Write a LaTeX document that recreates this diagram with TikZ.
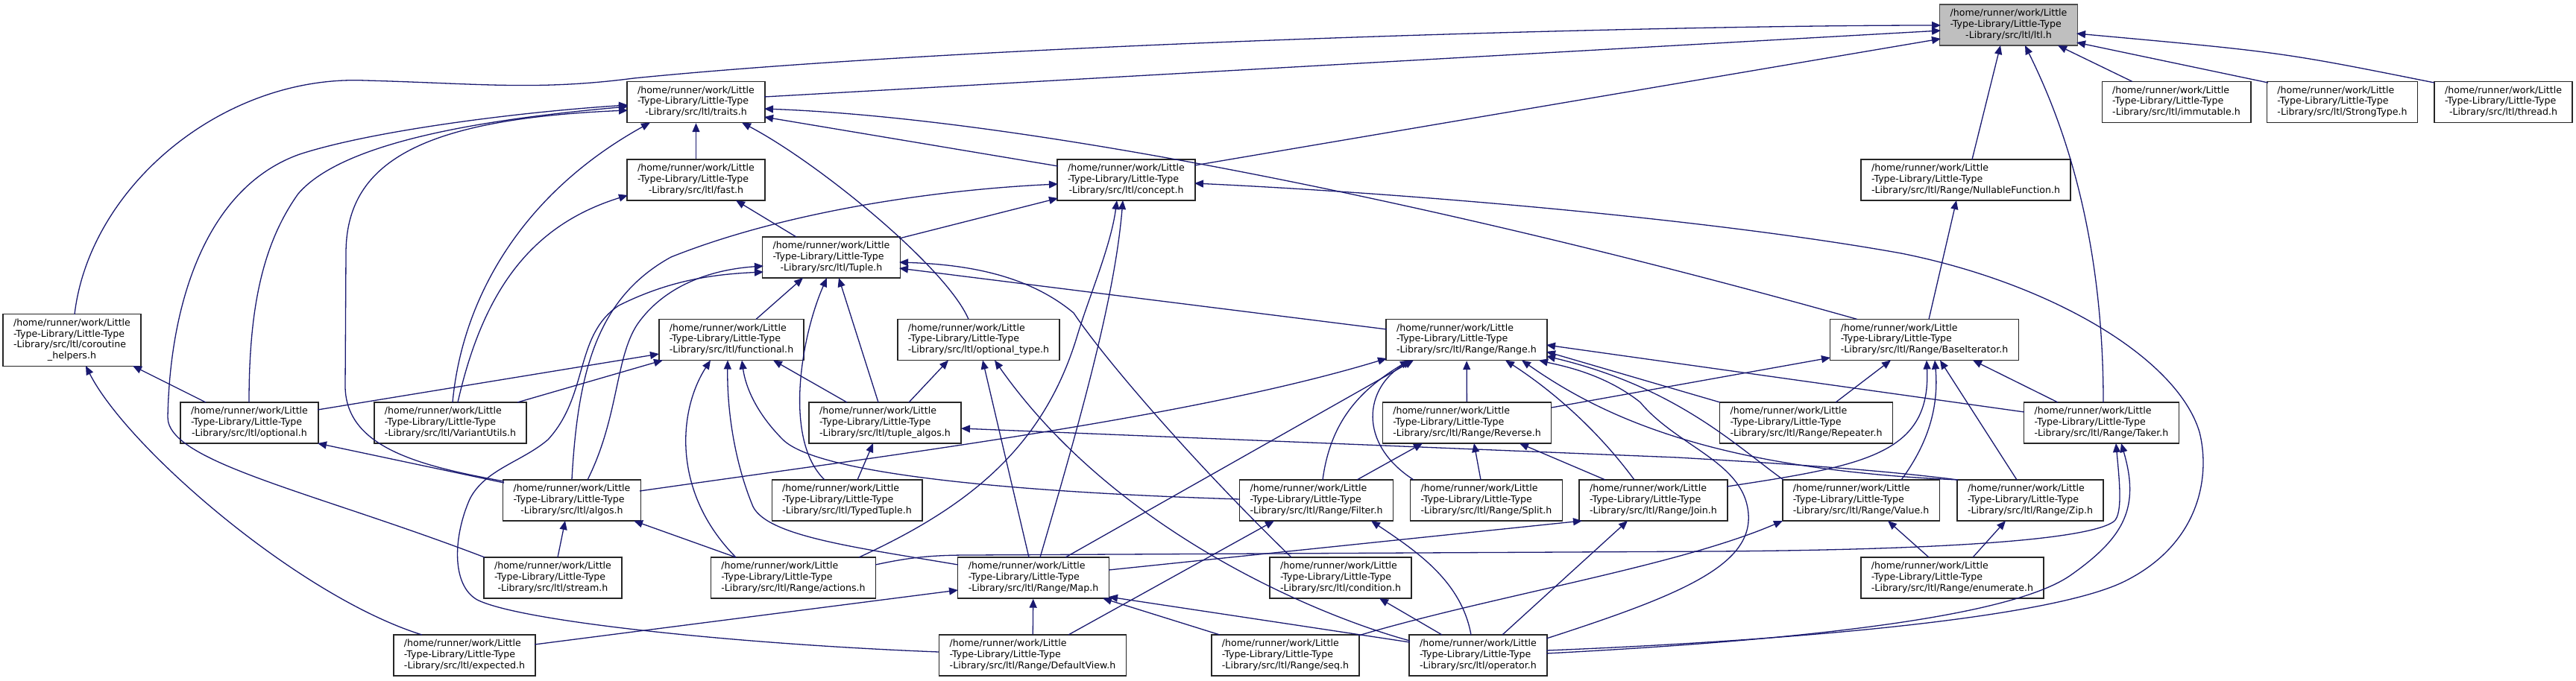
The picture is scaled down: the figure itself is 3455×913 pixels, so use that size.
\documentclass[tikz,border=0pt]{standalone}
\usepackage{fontspec}
\setmainfont{DejaVu Sans}
\usetikzlibrary{arrows.meta}
\definecolor{edgeblue}{HTML}{191970}
\newcommand{\flab}[1]{\begin{tabular}{@{}l@{}}/home/runner/work/Little\\-Type-Library/Little-Type\\\multicolumn{1}{@{}c@{}}{#1}\end{tabular}}
\tikzset{
  box/.style={draw=black!85, line width=1.4pt, fill=white, inner xsep=14pt, inner ysep=5.3pt,
    font=\fontsize{12.6}{14.8}\selectfont, anchor=center},
  rootbox/.style={box, fill=black!25, draw=black!70},
  edge/.style={draw=edgeblue, line width=1.3pt, -{Triangle[length=12pt,width=10pt]}}
}
\begin{document}
\begin{tikzpicture}[x=1pt,y=-1pt]
\fill[white] (0,0) rectangle (3455,913);
\useasboundingbox (0,0) rectangle (3455,913);
% nodes
\node[rootbox] (ltl) at (2694,33.5) {\flab{-Library/src/ltl/ltl.h}};
\node[box] (traits) at (933.5,137) {\flab{-Library/src/ltl/traits.h}};
\node[box] (immutable) at (2919,137) {\flab{-Library/src/ltl/immutable.h}};
\node[box] (strongtype) at (3141.5,137) {\flab{-Library/src/ltl/StrongType.h}};
\node[box] (thread) at (3357.5,137) {\flab{-Library/src/ltl/thread.h}};
\node[box] (fast) at (933.5,241.5) {\flab{-Library/src/ltl/fast.h}};
\node[box] (concept) at (1510.5,241.5) {\flab{-Library/src/ltl/concept.h}};
\node[box] (nullable) at (2636.5,241.5) {\flab{-Library/src/ltl/Range/NullableFunction.h}};
\node[box] (tuple) at (1115,345.5) {\flab{-Library/src/ltl/Tuple.h}};
\node[box] (coroutine) at (96.5,456.5) {\begin{tabular}{@{}l@{}}/home/runner/work/Little\\-Type-Library/Little-Type\\-Library/src/ltl/coroutine\\\multicolumn{1}{@{}c@{}}{\_helpers.h}\end{tabular}};
\node[box] (functional) at (981,456) {\flab{-Library/src/ltl/functional.h}};
\node[box] (optionaltype) at (1312.5,456) {\flab{-Library/src/ltl/optional\_type.h}};
\node[box] (range) at (1967,456) {\flab{-Library/src/ltl/Range/Range.h}};
\node[box] (baseiter) at (2581,456) {\flab{-Library/src/ltl/Range/BaseIterator.h}};
\node[box] (optional) at (334.5,567.5) {\flab{-Library/src/ltl/optional.h}};
\node[box] (variant) at (604,567.5) {\flab{-Library/src/ltl/VariantUtils.h}};
\node[box] (tuplealgos) at (1187,567.5) {\flab{-Library/src/ltl/tuple\_algos.h}};
\node[box] (reverse) at (1967.5,567.5) {\flab{-Library/src/ltl/Range/Reverse.h}};
\node[box] (repeater) at (2422.5,567.5) {\flab{-Library/src/ltl/Range/Repeater.h}};
\node[box] (taker) at (2818.5,567.5) {\flab{-Library/src/ltl/Range/Taker.h}};
\node[box] (algos) at (767,671.5) {\flab{-Library/src/ltl/algos.h}};
\node[box] (typedtuple) at (1136,671.5) {\flab{-Library/src/ltl/TypedTuple.h}};
\node[box] (filter) at (1765.5,671.5) {\flab{-Library/src/ltl/Range/Filter.h}};
\node[box] (split) at (1993.5,671.5) {\flab{-Library/src/ltl/Range/Split.h}};
\node[box] (join) at (2217.5,671.5) {\flab{-Library/src/ltl/Range/Join.h}};
\node[box] (value) at (2496,671.5) {\flab{-Library/src/ltl/Range/Value.h}};
\node[box] (zip) at (2723,671.5) {\flab{-Library/src/ltl/Range/Zip.h}};
\node[box] (stream) at (741.5,775.5) {\flab{-Library/src/ltl/stream.h}};
\node[box] (actions) at (1064,775.5) {\flab{-Library/src/ltl/Range/actions.h}};
\node[box] (map) at (1386,775.5) {\flab{-Library/src/ltl/Range/Map.h}};
\node[box] (condition) at (1798,775.5) {\flab{-Library/src/ltl/condition.h}};
\node[box] (enumerate) at (2618.5,775.5) {\flab{-Library/src/ltl/Range/enumerate.h}};
\node[box] (expected) at (623,879.5) {\flab{-Library/src/ltl/expected.h}};
\node[box] (defaultview) at (1385,879.5) {\flab{-Library/src/ltl/Range/DefaultView.h}};
\node[box] (seq) at (1724,879.5) {\flab{-Library/src/ltl/Range/seq.h}};
\node[box] (operator) at (1982.5,879.5) {\flab{-Library/src/ltl/operator.h}};
% edges into ltl.h
\draw[edge] ([xshift=3.5pt,yshift=34.5pt]coroutine.center) .. controls (120,250) and (300,100) .. (490,108) .. controls (640,112) and (720,122) .. (850,105) .. controls (1300,60) and (2200,34) .. ([xshift=-91pt,yshift=-0.5pt]ltl.center);
\draw[edge] ([xshift=91.5pt,yshift=7pt]traits.center) -- ([xshift=-91pt,yshift=-7.5pt]ltl.center);
\draw[edge] ([xshift=91.5pt,yshift=19.5pt]concept.center) -- ([xshift=-91pt,yshift=-18.5pt]ltl.center);
\draw[edge] ([xshift=8.5pt,yshift=27.5pt]nullable.center) -- ([xshift=-11pt,yshift=-27.5pt]ltl.center);
\draw[edge] ([xshift=2.5pt,yshift=27.5pt]taker.center) .. controls (2821,300) and (2760,150) .. ([xshift=22pt,yshift=-27.5pt]ltl.center);
\draw[edge] ([xshift=-59pt,yshift=27.5pt]immutable.center) -- ([xshift=66pt,yshift=-27.5pt]ltl.center);
\draw[edge] ([xshift=-99.5pt,yshift=26pt]strongtype.center) -- ([xshift=91pt,yshift=-23.5pt]ltl.center);
\draw[edge] ([xshift=-92.5pt,yshift=26pt]thread.center) .. controls (3060,70) .. ([xshift=91pt,yshift=-11.5pt]ltl.center);
% into traits.h
\draw[edge] (fast) -- (traits);
\draw[edge] ([xshift=3pt,yshift=27.5pt]variant.center) .. controls (620,400) and (700,260) .. ([xshift=-61.5pt,yshift=-27.5pt]traits.center);
\draw[edge] ([xshift=-13.5pt,yshift=27.5pt]optionaltype.center) .. controls (1270,360) and (1100,220) .. ([xshift=61.5pt,yshift=-27.5pt]traits.center);
\draw[edge] ([xshift=-90pt,yshift=27.5pt]baseiter.center) .. controls (2000,290) and (1400,160) .. ([xshift=91.5pt,yshift=-9pt]traits.center);
\draw[edge] ([xshift=-91.5pt,yshift=18.5pt]concept.center) -- ([xshift=91.5pt,yshift=-20pt]traits.center);
\draw[edge] ([xshift=-91.5pt,yshift=27.5pt]stream.center) .. controls (420,660) and (225,620) .. (225,560) .. controls (228,400) and (280,250) .. (402,207) .. controls (500,175) and (700,150) .. ([xshift=-91.5pt,yshift=-4pt]traits.center);
\draw[edge] ([xshift=-0.5pt,yshift=27.5pt]optional.center) .. controls (334,420) and (350,330) .. (400,260) .. controls (460,190) and (650,160) .. ([xshift=-91.5pt,yshift=-6pt]traits.center);
\draw[edge] ([xshift=-91pt,yshift=25.5pt]algos.center) .. controls (560,625) and (465,600) .. (463,520) -- (464,340) .. controls (464,220) and (560,160) .. ([xshift=-91.5pt,yshift=-11pt]traits.center);
% into fast.h
\draw[edge] ([xshift=10pt,yshift=27.5pt]variant.center) .. controls (650,380) and (720,300) .. ([xshift=-91.5pt,yshift=-20.5pt]fast.center);
\draw[edge] ([xshift=-47pt,yshift=27.5pt]tuple.center) -- ([xshift=53.5pt,yshift=-27.5pt]fast.center);
% into concept.h
\draw[edge] ([xshift=91.5pt,yshift=6.5pt]operator.center) .. controls (2400,860) and (2750,830) .. (2850,780) .. controls (2950,730) and (2965,640) .. (2950,580) .. controls (2920,480) and (2750,380) .. (2550,340) .. controls (2300,295) and (1900,260) .. ([xshift=91.5pt,yshift=-4.5pt]concept.center);
\draw[edge] ([xshift=91pt,yshift=25.5pt]tuple.center) -- ([xshift=-91.5pt,yshift=-24.5pt]concept.center);
\draw[edge] (algos.north) .. controls (775,500) and (800,400) .. (900,345) .. controls (1050,285) and (1250,255) .. ([xshift=-91.5pt,yshift=-5.5pt]concept.center);
\draw[edge] ([xshift=88pt,yshift=27.5pt]actions.center) .. controls (1300,680) and (1400,600) .. (1445,450) .. controls (1460,400) and (1490,330) .. ([xshift=-12.5pt,yshift=-27.5pt]concept.center);
\draw[edge] ([xshift=9pt,yshift=27.5pt]map.center) .. controls (1450,560) and (1495,400) .. ([xshift=-4.5pt,yshift=-27.5pt]concept.center);
% into Tuple.h
\draw[edge] ([xshift=33pt,yshift=27.5pt]functional.center) -- ([xshift=-38pt,yshift=-27.5pt]tuple.center);
\draw[edge] ([xshift=-30pt,yshift=27.5pt]typedtuple.center) .. controls (1050,590) and (1075,450) .. ([xshift=-6pt,yshift=-27.5pt]tuple.center);
\draw[edge] ([xshift=-9pt,yshift=27.5pt]tuplealgos.center) -- ([xshift=10pt,yshift=-27.5pt]tuple.center);
\draw[edge] ([xshift=21pt,yshift=27.5pt]algos.center) .. controls (830,560) and (825,480) .. (855,435) .. controls (890,385) and (950,362) .. ([xshift=-91pt,yshift=-11.5pt]tuple.center);
\draw[edge] ([xshift=-126pt,yshift=4.5pt]defaultview.center) .. controls (1000,865) and (700,835) .. (640,805) .. controls (605,785) and (608,720) .. (630,670) .. controls (650,630) and (700,620) .. (735,590) .. controls (790,530) and (770,450) .. (830,410) .. controls (900,375) and (960,368) .. ([xshift=-91pt,yshift=-19.5pt]tuple.center);
\draw[edge] ([xshift=-66pt,yshift=27.5pt]condition.center) .. controls (1600,620) and (1480,480) .. (1440,420) .. controls (1380,370) and (1300,355) .. ([xshift=91pt,yshift=-6.5pt]tuple.center);
\draw[edge] ([xshift=-107pt,yshift=14pt]range.center) -- ([xshift=91pt,yshift=-14.5pt]tuple.center);
% into functional.h
\draw[edge] ([xshift=91.5pt,yshift=17.5pt]optional.center) -- ([xshift=-97pt,yshift=-19pt]functional.center);
\draw[edge] ([xshift=90pt,yshift=27.5pt]variant.center) -- ([xshift=-92pt,yshift=-27.5pt]functional.center);
\draw[edge] ([xshift=-77pt,yshift=27.5pt]actions.center) .. controls (900,660) and (910,550) .. ([xshift=-28pt,yshift=-27.5pt]functional.center);
\draw[edge] ([xshift=-101pt,yshift=17.5pt]map.center) .. controls (1150,735) and (1030,720) .. (1010,680) .. controls (985,620) and (975,550) .. ([xshift=-5pt,yshift=-27.5pt]functional.center);
\draw[edge] ([xshift=-102.5pt,yshift=1.5pt]filter.center) .. controls (1400,662) and (1100,640) .. (1050,590) .. controls (1015,555) and (1000,520) .. ([xshift=14pt,yshift=-27.5pt]functional.center);
\draw[edge] ([xshift=-51pt,yshift=27.5pt]tuplealgos.center) -- ([xshift=56pt,yshift=-27.5pt]functional.center);
% into optional_type.h
\draw[edge] ([xshift=32pt,yshift=27.5pt]tuplealgos.center) -- ([xshift=-40.5pt,yshift=-27.5pt]optionaltype.center);
\draw[edge] ([xshift=-6pt,yshift=27.5pt]map.center) -- ([xshift=5.5pt,yshift=-27.5pt]optionaltype.center);
\draw[edge] ([xshift=-91.5pt,yshift=19.5pt]operator.center) .. controls (1780,830) and (1500,720) .. ([xshift=21.5pt,yshift=-27.5pt]optionaltype.center);
% into tuple_algos.h
\draw[edge] ([xshift=14pt,yshift=27.5pt]typedtuple.center) -- ([xshift=-16pt,yshift=-27.5pt]tuplealgos.center);
\draw[edge] ([xshift=-97pt,yshift=27.5pt]zip.center) .. controls (2500,628) and (2350,620) .. (2250,614) -- ([xshift=102pt,yshift=-7.5pt]tuplealgos.center);
% into coroutine_helpers.h
\draw[edge] ([xshift=-58.5pt,yshift=27.5pt]optional.center) -- ([xshift=81.5pt,yshift=-34.5pt]coroutine.center);
\draw[edge] ([xshift=-57pt,yshift=27.5pt]expected.center) .. controls (400,800) and (170,600) .. ([xshift=18.5pt,yshift=-34.5pt]coroutine.center);
% into optional.h / algos.h
\draw[edge] ([xshift=-91pt,yshift=23.5pt]algos.center) -- ([xshift=91.5pt,yshift=-27.5pt]optional.center);
\draw[edge] ([xshift=6.5pt,yshift=27.5pt]stream.center) -- ([xshift=-9pt,yshift=-27.5pt]algos.center);
\draw[edge] ([xshift=-77pt,yshift=27.5pt]actions.center) -- ([xshift=83pt,yshift=-27.5pt]algos.center);
% into Range.h
\draw[edge] ([xshift=91pt,yshift=12.5pt]algos.center) .. controls (1200,610) and (1600,560) .. ([xshift=-107pt,yshift=-25pt]range.center);
\draw[edge] ([xshift=43pt,yshift=27.5pt]map.center) -- ([xshift=-71pt,yshift=-27.5pt]range.center);
\draw[edge] ([xshift=8.5pt,yshift=27.5pt]filter.center) .. controls (1785,560) and (1830,520) .. ([xshift=-77pt,yshift=-27.5pt]range.center);
\draw[edge] ([xshift=-97.5pt,yshift=27.5pt]split.center) .. controls (1820,595) and (1830,520) .. ([xshift=-74pt,yshift=-27.5pt]range.center);
\draw[edge] (reverse) -- (range);
\draw[edge] ([xshift=-25.5pt,yshift=27.5pt]join.center) .. controls (2130,560) and (2060,510) .. ([xshift=52pt,yshift=-27.5pt]range.center);
\draw[edge] ([xshift=-97pt,yshift=27.5pt]zip.center) .. controls (2300,630) and (2150,560) .. ([xshift=74pt,yshift=-27.5pt]range.center);
\draw[edge] ([xshift=91.5pt,yshift=22.5pt]operator.center) .. controls (2250,800) and (2350,760) .. (2345,690) .. controls (2340,620) and (2250,600) .. (2200,540) .. controls (2150,500) and (2090,490) .. ([xshift=97pt,yshift=-27.5pt]range.center);
\draw[edge] ([xshift=-104pt,yshift=27.5pt]value.center) .. controls (2330,600) and (2250,520) .. ([xshift=107pt,yshift=-22pt]range.center);
\draw[edge] ([xshift=-115.5pt,yshift=27.5pt]repeater.center) -- ([xshift=107pt,yshift=-16pt]range.center);
\draw[edge] ([xshift=-103.5pt,yshift=14.5pt]taker.center) -- ([xshift=107pt,yshift=-7pt]range.center);
% NullableFunction / BaseIterator
\draw[edge] ([xshift=6pt,yshift=27.5pt]baseiter.center) -- ([xshift=-12.5pt,yshift=-27.5pt]nullable.center);
\draw[edge] ([xshift=113.5pt,yshift=20.5pt]reverse.center) -- ([xshift=-126pt,yshift=-24pt]baseiter.center);
\draw[edge] ([xshift=39.5pt,yshift=27.5pt]repeater.center) -- ([xshift=-45pt,yshift=-27.5pt]baseiter.center);
\draw[edge] ([xshift=98.5pt,yshift=18.5pt]join.center) .. controls (2500,625) and (2590,610) .. ([xshift=3pt,yshift=-27.5pt]baseiter.center);
\draw[edge] ([xshift=54pt,yshift=27.5pt]value.center) .. controls (2590,590) and (2600,540) .. ([xshift=14pt,yshift=-27.5pt]baseiter.center);
\draw[edge] ([xshift=-18pt,yshift=27.5pt]zip.center) -- ([xshift=21pt,yshift=-27.5pt]baseiter.center);
\draw[edge] ([xshift=-58.5pt,yshift=27.5pt]taker.center) -- ([xshift=65pt,yshift=-27.5pt]baseiter.center);
% into Reverse.h
\draw[edge] ([xshift=54.5pt,yshift=27.5pt]filter.center) -- ([xshift=-59.5pt,yshift=-27.5pt]reverse.center);
\draw[edge] ([xshift=-7.5pt,yshift=27.5pt]split.center) -- ([xshift=9.5pt,yshift=-27.5pt]reverse.center);
\draw[edge] ([xshift=-64.5pt,yshift=27.5pt]join.center) -- ([xshift=70.5pt,yshift=-27.5pt]reverse.center);
% into Filter.h / Join.h
\draw[edge] ([xshift=48pt,yshift=27.5pt]defaultview.center) -- ([xshift=-56.5pt,yshift=-27.5pt]filter.center);
\draw[edge] ([xshift=-9.5pt,yshift=27.5pt]operator.center) .. controls (1960,780) and (1900,740) .. ([xshift=73.5pt,yshift=-27.5pt]filter.center);
\draw[edge] ([xshift=101pt,yshift=10.5pt]map.center) -- ([xshift=-95.5pt,yshift=-27.5pt]join.center);
\draw[edge] ([xshift=32.5pt,yshift=27.5pt]operator.center) -- ([xshift=-34.5pt,yshift=-27.5pt]join.center);
% into Map.h
\draw[edge] ([xshift=94pt,yshift=14.5pt]expected.center) -- ([xshift=-101pt,yshift=-16.5pt]map.center);
\draw[edge] (defaultview) -- (map);
\draw[edge] ([xshift=-88pt,yshift=27.5pt]seq.center) -- ([xshift=93pt,yshift=-27.5pt]map.center);
\draw[edge] ([xshift=-91.5pt,yshift=17.5pt]operator.center) -- ([xshift=101pt,yshift=-25.5pt]map.center);
% condition, Value, Zip, Taker
\draw[edge] ([xshift=-48.5pt,yshift=27.5pt]operator.center) -- ([xshift=52pt,yshift=-27.5pt]condition.center);
\draw[edge] ([xshift=98pt,yshift=26.5pt]seq.center) .. controls (2000,800) and (2250,760) .. ([xshift=-105pt,yshift=-27.5pt]value.center);
\draw[edge] ([xshift=-31.5pt,yshift=27.5pt]enumerate.center) -- ([xshift=36pt,yshift=-27.5pt]value.center);
\draw[edge] ([xshift=27.5pt,yshift=27.5pt]enumerate.center) -- ([xshift=-33pt,yshift=-27.5pt]zip.center);
\draw[edge] ([xshift=110pt,yshift=17.5pt]actions.center) .. controls (1220,748) and (1250,745) .. (1300,745) -- (2300,740) .. controls (2600,738) and (2800,725) .. (2835,700) .. controls (2848,690) and (2842,640) .. ([xshift=19.5pt,yshift=-27.5pt]taker.center);
\draw[edge] ([xshift=91.5pt,yshift=2.5pt]operator.center) .. controls (2400,860) and (2700,830) .. (2780,770) .. controls (2850,720) and (2870,680) .. ([xshift=26.5pt,yshift=-27.5pt]taker.center);
\end{tikzpicture}
\end{document}
